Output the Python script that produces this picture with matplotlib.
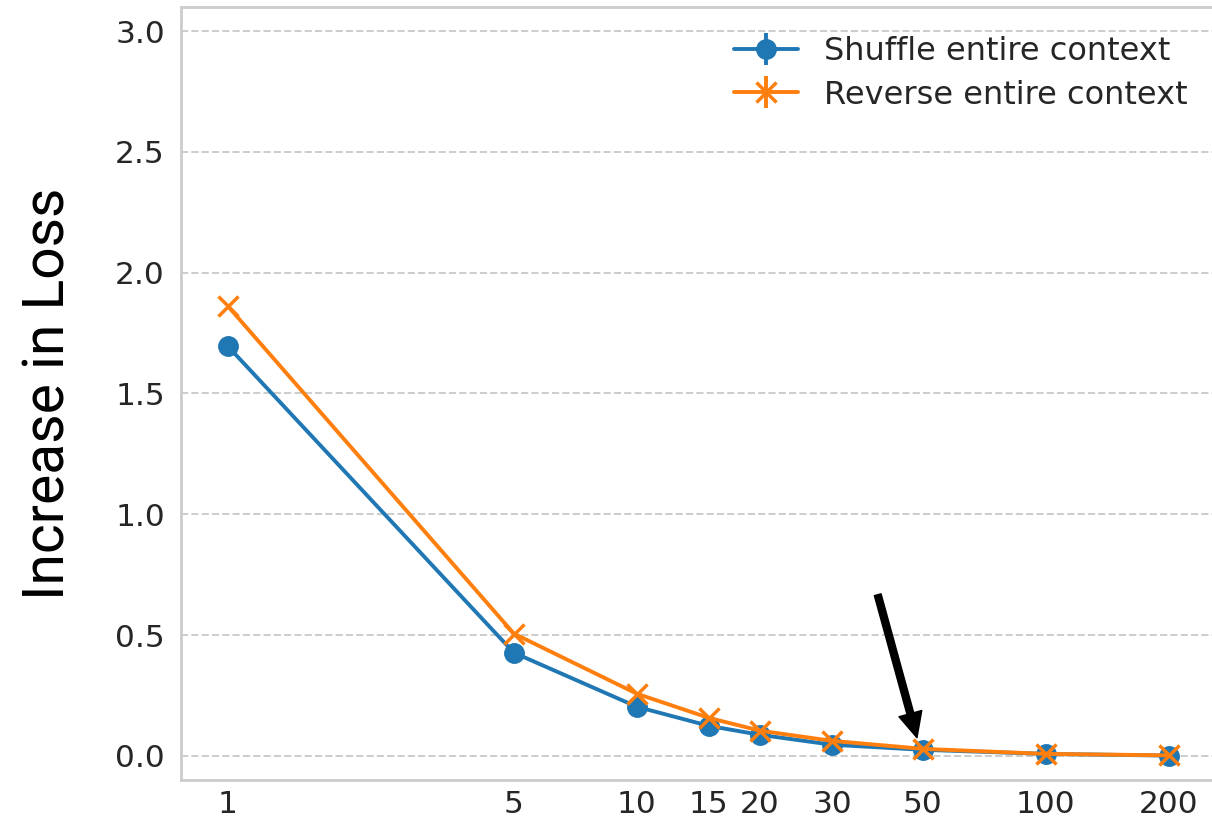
import numpy as np
import matplotlib
matplotlib.use("Agg")
import matplotlib.pyplot as plt
import seaborn as sns

# context sizes (tokens) and increase in loss
context_sizes = [1, 5, 10, 15, 20, 30, 50, 100, 200]
shuffle_loss = [1.695, 0.427, 0.203, 0.124, 0.087, 0.046, 0.025, 0.008, 0.001]
reverse_loss = [1.861, 0.506, 0.257, 0.157, 0.104, 0.062, 0.029, 0.008, 0.002]
shuffle_err = [0.0] * len(context_sizes)
reverse_err = [0.0] * len(context_sizes)
y_ticks = [0.0, 0.5, 1.0, 1.5, 2.0, 2.5, 3.0]

sns.set_style("whitegrid")
plt.rcParams['font.family'] = ['DejaVu Sans']

fig = plt.figure(figsize=(12.12, 8.22), dpi=100)
ax = fig.add_axes([0.1493, 0.0511, 0.854, 0.9404])

ax.errorbar(context_sizes, shuffle_loss, yerr=shuffle_err, color='#1f77b4',
            marker='o', markersize=14, linewidth=2.8, elinewidth=2.8,
            capsize=0, label='Shuffle entire context')
ax.errorbar(context_sizes, reverse_loss, yerr=reverse_err, color='#ff7f0e',
            marker='x', markersize=14, markeredgewidth=2.5, linewidth=2.8,
            elinewidth=2.8, capsize=0, label='Reverse entire context')

ax.set_xscale('log')
ax.set_xticks(context_sizes)
ax.set_xticklabels([str(c) for c in context_sizes])
ax.minorticks_off()
ax.set_ylim(-0.1, 3.1)
ax.set_yticks(y_ticks)
ax.tick_params(labelsize=22.5, colors='#262626')
ax.tick_params(axis='x', pad=4)
ax.tick_params(axis='y', pad=8)

ax.grid(axis='x', visible=False)
ax.grid(axis='y', linestyle='--', color='#cccccc', linewidth=1.4)
for s in ax.spines.values():
    s.set_color('#cccccc')
    s.set_linewidth(2)

ax.set_ylabel('Increase in Loss', fontsize=41, color='black',
              family=['Roboto', 'DejaVu Sans'], fontweight='normal',
              labelpad=28)

ax.annotate('', xy=(48.4, 0.075), xytext=(38.8, 0.667),
            arrowprops=dict(facecolor='black', edgecolor='black', width=5,
                            headwidth=17, headlength=18, shrink=0))

ax.legend(loc='upper right', frameon=False, fontsize=23,
          bbox_to_anchor=(1.0, 1.0), handlelength=2.0, labelspacing=0.4)

fig.savefig('out.png', dpi=100)
